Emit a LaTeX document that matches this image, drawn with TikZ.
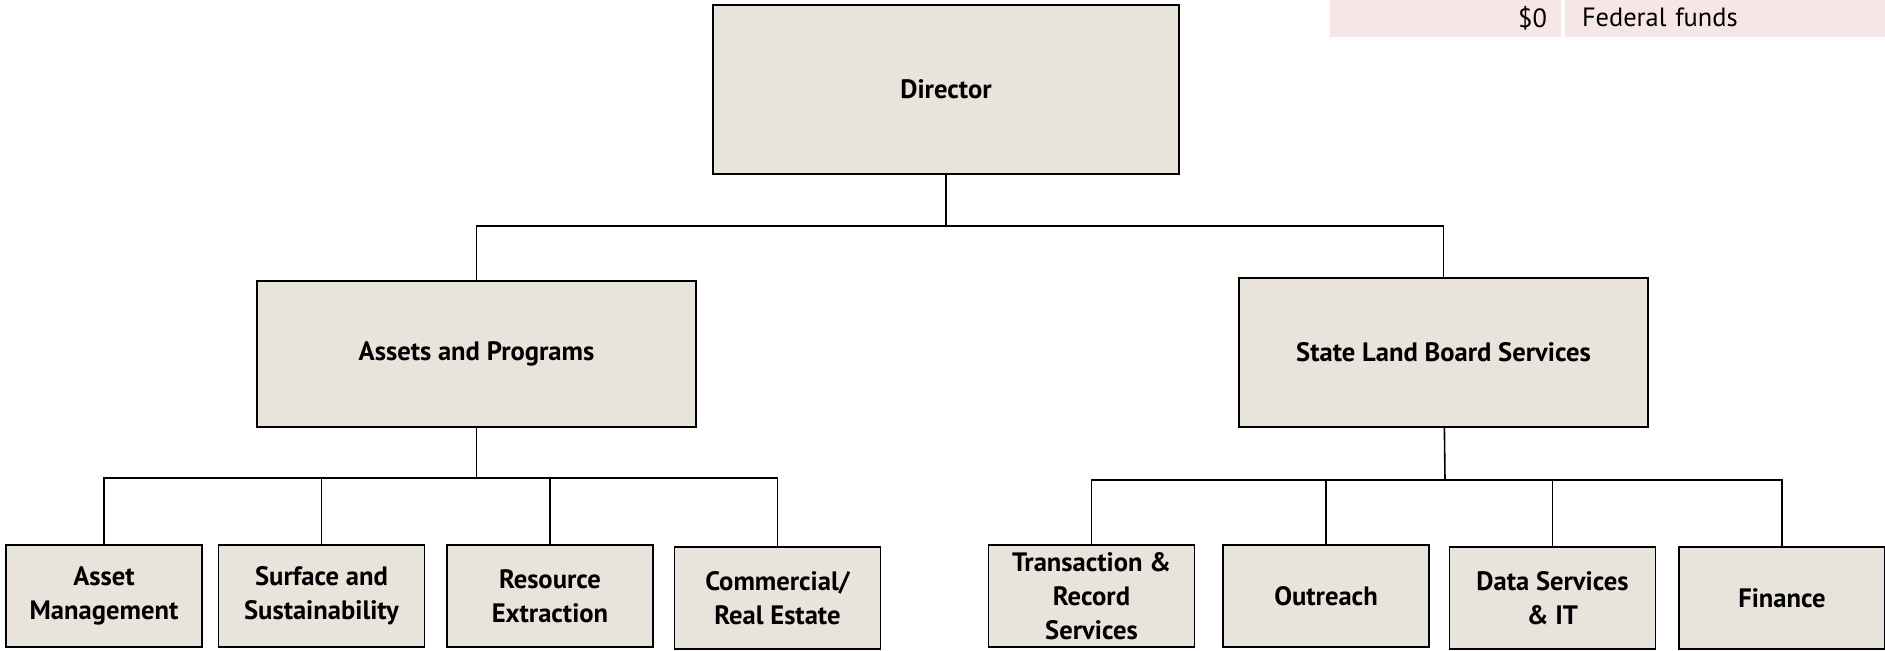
\documentclass[tikz,border=0pt]{standalone}
\usepackage{fontspec}
\setmainfont{PT Sans}
\usepackage{xcolor}
\definecolor{boxfill}{RGB}{232,228,220}
\definecolor{cellpink}{RGB}{246,230,230}

\begin{document}
\begin{tikzpicture}[x=0.5pt, y=-0.5pt, inner sep=3pt]
		\tikzstyle{every node}=[align=center]
		\tikzstyle{unit}=[draw, line width=0.8pt, fill=boxfill, font=\fontsize{13.3}{17}\selectfont\bfseries]
		\tikzstyle{sub}=[unit, minimum width=103pt, minimum height=51pt]
		\tikzstyle{cell}=[fill=cellpink, minimum height=18.5pt, inner xsep=0pt, font=\fontsize{13.2}{15}\selectfont]
		\tikzstyle{link}=[line width=0.8pt]
			\useasboundingbox (0, 0) rectangle (1885, 650);

			\node[cell, minimum width=115.5pt, text width=101.5pt, align=right] (amount) at (1445.5, 18.5) {\raisebox{1.5pt}{\$0}};
			\node[cell, minimum width=160pt, text width=143pt, align=left] (source) at (1725, 18.5) {\raisebox{1.5pt}{Federal funds}};

			\node[unit, minimum width=233pt, minimum height=84.5pt] (director) at (946, 89.5) {Director};
			\node[unit, minimum width=219.5pt, minimum height=73pt] (assets) at (476.5, 354) {Assets and Programs};
			\node[unit, minimum width=204.5pt, minimum height=74.5pt] (board) at (1443.5, 352.5) {State Land Board Services};

			\node[sub, minimum width=98pt] (assetmgmt) at (104, 596) {Asset\\Management};
			\node[sub] (surface) at (321.5, 596) {Surface and\\Sustainability};
			\node[sub] (resource) at (550, 596) {Resource\\Extraction};
			\node[sub] (commercial) at (777.5, 598) {Commercial/\\Real Estate};

			\node[sub] (transaction) at (1091.5, 596) {Transaction \&\\Record\\Services};
			\node[sub] (outreach) at (1326, 596) {Outreach};
			\node[sub] (dataserv) at (1552.5, 598) {Data Services\\\& IT};
			\node[sub] (finance) at (1782, 598) {Finance};

			\coordinate (topbus) at (946, 226);
			\coordinate (leftbus) at (476.5, 478);
			\coordinate (rightbus) at (1445, 480);

			\draw[link] (director) -- (topbus) -| (assets);
			\draw[link] (topbus) -| (board);

			\draw[link] (assets) -- (leftbus);
			\foreach \kid in {assetmgmt, surface, resource, commercial}
				\draw[link] (leftbus) -| (\kid);

			\draw[link] (board) -- (rightbus);
			\foreach \kid in {transaction, outreach, dataserv, finance}
				\draw[link] (rightbus) -| (\kid);
		\end{tikzpicture}
\end{document}
